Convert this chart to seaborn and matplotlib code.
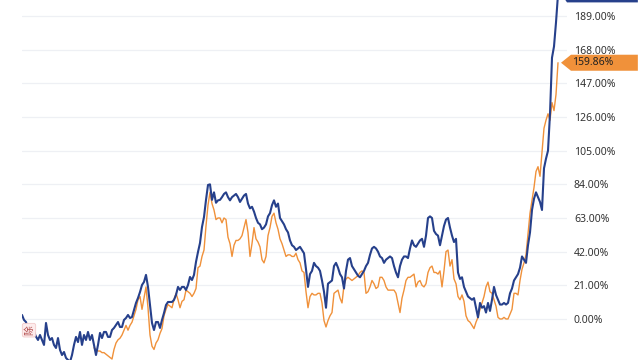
import numpy as np
import pandas as pd
import matplotlib
matplotlib.use("Agg")
import matplotlib.pyplot as plt
import matplotlib.transforms as mtransforms
from matplotlib.patches import Polygon
import seaborn as sns

# ---- data (cumulative return, %) ----
blue_days = list(range(0, 269))
blue_vals = [
    2.5, -0.6, -1.9, -6.9, -8.5, -10.0, -8.1, -11.0, -13.1, -10.0,
    -13.1, -16.2, -2.5, -10.0, -13.1, -11.9, -16.2, -18.1, -11.9, -19.3,
    -22.5, -20.6, -24.3, -25.6, -26.8, -22.5, -16.2, -11.2, -14.4, -8.1,
    -16.2, -10.0, -13.1, -8.1, -13.1, -10.0, -16.2, -22.5, -16.2, -8.7,
    -11.9, -8.1, -8.1, -11.2, -11.2, -6.9, -5.6, -3.7, -1.9, -5.0,
    -5.0, -0.6, 0.6, 2.5, 0.6, 1.2, 5.6, 10.0, 13.1, 16.8,
    21.2, 23.1, 27.5, 20.0, 8.7, -2.5, -6.9, -1.9, -1.9, -5.6,
    -0.6, 3.7, 8.7, 10.6, 10.6, 10.6, 11.9, 15.0, 20.0, 18.1,
    20.0, 20.0, 18.1, 21.2, 26.2, 24.3, 27.5, 35.6, 41.8, 47.4,
    57.4, 63.6, 74.3, 83.6, 84.0, 74.3, 79.0, 72.5, 74.0, 74.3,
    76.0, 78.0, 79.0, 76.0, 74.0, 76.0, 77.0, 78.0, 76.0, 73.0,
    75.0, 77.0, 78.0, 72.0, 69.0, 70.0, 67.0, 63.0, 60.0, 59.0,
    56.0, 57.0, 59.0, 64.0, 66.0, 71.0, 74.0, 70.0, 72.0, 63.0,
    61.0, 59.0, 56.0, 54.0, 49.0, 46.0, 45.0, 43.0, 44.0, 45.0,
    43.0, 41.0, 31.0, 20.0, 28.0, 30.0, 35.0, 33.0, 32.0, 30.0,
    24.0, 17.0, 7.0, 22.0, 23.0, 24.0, 33.0, 35.0, 32.0, 28.0,
    26.0, 19.0, 30.0, 37.0, 38.0, 33.0, 31.0, 29.0, 27.0, 26.0,
    28.0, 30.0, 33.0, 35.0, 40.0, 44.0, 45.0, 44.0, 42.0, 39.0,
    38.0, 35.0, 37.0, 38.0, 39.0, 38.0, 33.0, 29.0, 26.0, 33.0,
    37.0, 39.0, 39.0, 38.0, 44.0, 49.0, 46.0, 45.0, 47.0, 49.0,
    50.0, 45.0, 52.0, 63.0, 64.0, 63.0, 55.0, 53.0, 52.0, 46.0,
    52.0, 58.0, 62.0, 63.0, 57.0, 52.0, 48.0, 50.0, 29.0, 25.0,
    26.0, 20.0, 17.0, 14.0, 13.0, 12.0, 13.0, 7.0, 1.0, 10.0,
    7.0, 8.0, 4.0, 10.0, 5.0, 12.0, 20.0, 15.0, 12.0, 9.0,
    9.0, 10.0, 9.0, 10.0, 16.0, 19.0, 24.0, 26.0, 28.0, 32.0,
    39.0, 37.0, 35.0, 46.0, 54.0, 68.0, 75.0, 79.0, 76.0, 73.0,
    68.0, 94.0, 100.0, 105.0, 128.0, 163.0, 170.0, 185.0, 202.5,
]

orange_days = list(range(36, 269))
orange_vals = [
    -18.0, -19.0, -20.0, -20.0, -21.0, -21.0, -22.0, -23.0, -24.0, -25.0,
    -19.0, -15.0, -13.0, -12.0, -10.0, -7.0, -4.0, -7.0, -4.0, -2.0,
    2.0, 6.0, 12.0, 14.0, 6.0, 13.0, 20.0, 7.0, -10.0, -17.0,
    -19.0, -15.0, -13.0, -9.0, -6.0, 2.0, 6.0, 9.0, 8.0, 7.0,
    12.0, 16.0, 12.0, 7.0, 11.0, 12.0, 18.0, 17.0, 16.0, 14.0,
    16.0, 19.0, 32.0, 33.0, 39.0, 43.0, 58.0, 71.0, 79.0, 72.0,
    68.0, 62.0, 63.0, 63.0, 60.0, 63.0, 62.0, 51.0, 47.0, 39.0,
    46.0, 49.0, 49.0, 50.0, 52.0, 57.0, 62.0, 54.0, 39.0, 47.0,
    57.0, 50.0, 48.0, 45.0, 37.0, 35.0, 39.0, 52.0, 57.0, 64.0,
    66.0, 60.0, 56.0, 50.0, 47.0, 43.0, 39.0, 40.0, 40.0, 39.0,
    39.0, 41.0, 37.0, 35.0, 30.0, 29.0, 17.0, 7.0, 14.0, 16.0,
    15.0, 15.0, 16.0, 16.0, 10.0, -1.0, -5.0, -1.0, 2.0, 4.0,
    16.0, 17.0, 18.0, 13.0, 10.0, 21.0, 25.0, 26.0, 25.0, 24.0,
    25.0, 26.0, 27.0, 29.0, 30.0, 29.0, 16.0, 17.0, 20.0, 24.0,
    22.0, 19.0, 20.0, 26.0, 26.0, 24.0, 20.0, 18.0, 18.0, 18.0,
    18.0, 16.0, 10.0, 4.0, 13.0, 18.0, 24.0, 26.0, 26.0, 27.0,
    28.0, 20.0, 23.0, 24.0, 21.0, 20.0, 22.0, 29.0, 32.0, 33.0,
    29.0, 29.0, 28.0, 30.0, 20.0, 30.0, 42.0, 43.0, 33.0, 37.0,
    25.0, 22.0, 14.0, 12.0, 15.0, 11.0, 2.0, -1.0, -2.0, -4.0,
    -6.0, -2.0, 1.0, 6.0, 10.0, 14.0, 20.0, 23.0, 17.0, 16.0,
    12.0, 8.0, 1.0, 0.0, 0.0, 1.0, 0.0, 0.0, 3.0, 6.0,
    16.0, 16.0, 15.0, 24.0, 31.0, 35.0, 40.0, 53.0, 66.0, 74.0,
    82.0, 92.0, 95.0, 89.0, 104.0, 119.0, 124.0, 128.0, 124.0, 135.0,
    130.0, 140.0, 159.86,
]

y_ticks = [0, 21, 42, 63, 84, 105, 126, 147, 168, 189]
y_tick_labels = [f"{v:.2f}%" for v in y_ticks]
orange_last_label = "159.86%"

BLUE = "#26408b"
ORANGE = "#f0913a"

df_b = pd.DataFrame({"day": blue_days, "ret": blue_vals})
df_o = pd.DataFrame({"day": orange_days, "ret": orange_vals})

sns.set_style("white")
plt.rcParams["font.family"] = ["Noto Sans", "Noto Sans CJK SC", "DejaVu Sans"]

fig = plt.figure(figsize=(6.4, 3.6), dpi=100)
ax = fig.add_axes([22 / 640, 0, 545 / 640, 1])

sns.lineplot(data=df_o, x="day", y="ret", color=ORANGE, linewidth=1.0, ax=ax)
sns.lineplot(data=df_b, x="day", y="ret", color=BLUE, linewidth=1.5, ax=ax)

ax.set_xlim(0, 272.5)
ax.set_ylim(-25.6, 199.0)
ax.set_yticks(y_ticks)
ax.set_yticklabels(y_tick_labels)
ax.yaxis.tick_right()
ax.tick_params(axis="y", length=0, pad=5, labelsize=7.5, labelcolor="#333333")
ax.set_xticks([])
ax.set_xlabel("")
ax.set_ylabel("")
ax.grid(axis="y", color="#eef0f4", linewidth=0.9)
for s in ax.spines.values():
    s.set_visible(False)

# last value markers
trans = mtransforms.blended_transform_factory(ax.transAxes, ax.transData)
hh = 5.0
for val, col, tip, x0 in [(orange_vals[-1], ORANGE, 0.989, 1.0073),
                          (blue_vals[-1], BLUE, 0.99, 1.0)]:
    poly = Polygon([[tip, val], [x0, val + hh], [1.13, val + hh],
                    [1.13, val - hh], [x0, val - hh]],
                   closed=True, transform=trans, facecolor=col,
                   edgecolor="none", clip_on=False, zorder=5)
    ax.add_patch(poly)
ax.text(1.0093, orange_vals[-1], orange_last_label, transform=trans,
        ha="left", va="center", fontsize=7.5, color="#222222", zorder=6,
        clip_on=False)

# small marker at start
ax.text(3.5, -7.0, "除", rotation=90, ha="center", va="center",
        fontsize=7, color="#b04a4a", zorder=6,
        bbox=dict(boxstyle="round,pad=0.2", facecolor="#fdecec",
                  edgecolor="#f2caca", linewidth=0.6))

fig.savefig("out.png", dpi=100)
